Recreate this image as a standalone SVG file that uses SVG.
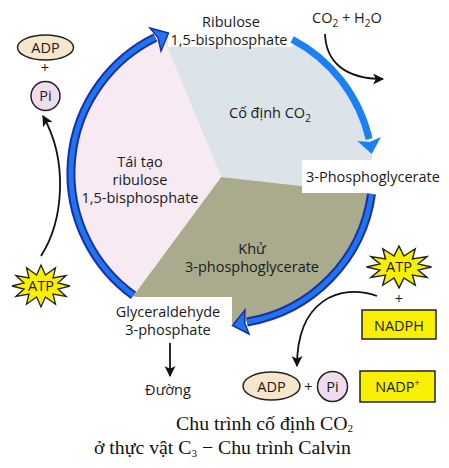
<svg xmlns="http://www.w3.org/2000/svg" xmlns:xlink="http://www.w3.org/1999/xlink" width="449" height="468" viewBox="0 0 449 468">
<style>
  .lbl { font-family: "Open Sans", "Noto Sans", "DejaVu Sans", sans-serif; font-size: 14.5px; fill: #1a1a1a; }
  .mid { text-anchor: middle; }
  .cap { font-family: "Liberation Serif", "Times New Roman", serif; font-size: 19.8px; fill: #111; text-anchor: end; }
  .box { fill: #ffffff; stroke: none; }
  .arcDark { fill: none; stroke: #1a2fa5; stroke-width: 9; }
  .arcLight { fill: none; stroke: #1f74f0; stroke-width: 5; }
  .arcBright { fill: none; stroke: #1a80f5; stroke-width: 7; }
  .headB { fill: #1f74f0; stroke: #1a2fa5; stroke-width: 1.5; stroke-linejoin: miter; }
  .headBright { fill: #1a80f5; stroke: none; }
  .conn { fill: none; stroke: #111; stroke-width: 1.8; }
  .adp { fill: #f5e6cc; stroke: #222; stroke-width: 1.5; }
  .pi { fill: #f0dcec; stroke: #222; stroke-width: 1.5; }
  .yel { fill: #f8f000; stroke: #222; stroke-width: 1.5; }
  .star { fill: #f8f000; stroke: #222; stroke-width: 1.3; stroke-linejoin: miter; }
</style>
<defs>
  <marker id="ah" viewBox="0 0 10 10" refX="9" refY="5" markerWidth="11" markerHeight="11" markerUnits="userSpaceOnUse" orient="auto">
    <path d="M0,0 L10,5 L0,10 L2.5,5 z" fill="#111"/>
  </marker>
  <polygon id="star" points="29,0 17,3 25.1,10.5 12,8 14.5,18.2 4.4,11 0,21 -4.4,11 -14.5,18.2 -12,8 -25.1,10.5 -17,3 -29,0 -17,-3 -25.1,-10.5 -12,-8 -14.5,-18.2 -4.4,-11 0,-21 4.4,-11 14.5,-18.2 12,-8 25.1,-10.5 17,-3"/>
</defs>
<rect x="0" y="0" width="449" height="468" fill="#ffffff"/>

<g id="cycle">
  <path d="M221,177 L161.8,34.5 A151,151 0 0 1 371.6,193.8 Z" fill="#dde4e9"/>
  <path d="M221,177 L371.6,193.8 A151,151 0 0 1 133.5,295.4 Z" fill="#aaaa8c"/>
  <path d="M221,177 L133.5,295.4 A151,151 0 0 1 161.8,34.5 Z" fill="#f7eaf3"/>
</g>

<g id="label-boxes">
  <rect class="box" x="168" y="6" width="125" height="41"/>
  <rect class="box" x="302" y="160" width="143" height="33"/>
  <rect class="box" x="104" y="297" width="128" height="46"/>
</g>

<g id="connectors">
  <path class="arcBright" d="M292.2,39.3 A151,151 0 0 1 369.1,139"/>
  <polygon class="headBright" points="357.3,141.1 371.7,154 380.9,136.9 369.6,142"/>
  <path class="arcDark" d="M371.5,194 A151,151 0 0 1 247,322"/>
  <path class="arcLight" d="M371.5,194 A151,151 0 0 1 247,322"/>
  <polygon class="headB" points="249,334 232.5,325.5 245,310 244.5,322.5"/>
  <path class="arcDark" d="M133.5,295.4 A151,151 0 0 1 155.3,37.5"/>
  <path class="arcLight" d="M133.5,295.4 A151,151 0 0 1 155.3,37.5"/>
  <polygon class="headB" points="150,28 168.5,33 161,51 158,37.5"/>
  <path class="conn" marker-end="url(#ah)" d="M41,256 C64,220 68,160 43,116"/>
  <path class="conn" marker-end="url(#ah)" d="M325,34 C326,62 345,79 383,79"/>
  <path class="conn" marker-end="url(#ah)" d="M170,343 L170,376"/>
  <path class="conn" marker-end="url(#ah)" d="M377,296 C340,283 297,300 297,366"/>
</g>

<g id="ribulose">
  <text class="lbl mid" x="231" y="27">Ribulose</text>
  <text class="lbl mid" x="229" y="45">1,5-bisphosphate</text>
</g>
<g id="co2-h2o">
  <text class="lbl" x="312" y="23">CO<tspan font-size="10" dy="4">2</tspan><tspan dy="-4"> + H</tspan><tspan font-size="10" dy="4">2</tspan><tspan dy="-4">O</tspan></text>
</g>
<g id="co-dinh">
  <text class="lbl" x="229" y="118">Cố định CO<tspan font-size="10" dy="4">2</tspan></text>
</g>
<g id="phosphoglycerate">
  <text class="lbl" x="306" y="182">3-Phosphoglycerate</text>
</g>
<g id="tai-tao">
  <text class="lbl mid" x="140" y="167">Tái tạo</text>
  <text class="lbl mid" x="140" y="185">ribulose</text>
  <text class="lbl mid" x="140" y="203">1,5-bisphosphate</text>
</g>
<g id="khu">
  <text class="lbl mid" x="252" y="254">Khử</text>
  <text class="lbl mid" x="252" y="272">3-phosphoglycerate</text>
</g>
<g id="glyceraldehyde">
  <text class="lbl mid" x="168" y="317">Glyceraldehyde</text>
  <text class="lbl mid" x="168" y="335">3-phosphate</text>
</g>
<g id="duong">
  <text class="lbl mid" x="168" y="395">Đường</text>
</g>

<g id="adp-top">
  <ellipse class="adp" cx="45.5" cy="47.5" rx="28" ry="12.5"/>
  <text class="lbl mid" x="45.5" y="53">ADP</text>
  <text class="lbl mid" x="45" y="73">+</text>
</g>
<g id="pi-top">
  <circle class="pi" cx="45.5" cy="96" r="14.5"/>
  <text class="lbl mid" x="45.5" y="101">Pi</text>
</g>
<g id="atp-left">
  <use xlink:href="#star" class="star" transform="translate(41,286)"/>
  <text class="lbl mid" x="41" y="291" font-size="13.5">ATP</text>
</g>
<g id="atp-right">
  <use xlink:href="#star" class="star" transform="translate(399,267) scale(1.12,1)"/>
  <text class="lbl mid" x="399" y="272" font-size="13.5">ATP</text>
  <text class="lbl mid" x="399" y="304">+</text>
</g>
<g id="nadph">
  <rect class="yel" x="362" y="310" width="74" height="29"/>
  <text class="lbl mid" x="399" y="331">NADPH</text>
</g>
<g id="adp-bottom">
  <ellipse class="adp" cx="271.5" cy="386" rx="28.5" ry="14"/>
  <text class="lbl mid" x="271.5" y="391.5">ADP</text>
  <text class="lbl mid" x="308.5" y="392" font-size="18">+</text>
</g>
<g id="pi-bottom">
  <circle class="pi" cx="332.5" cy="386.5" r="15"/>
  <text class="lbl mid" x="332.5" y="392">Pi</text>
</g>
<g id="nadp">
  <rect class="yel" x="360" y="371" width="75" height="31"/>
  <text class="lbl mid" x="397.5" y="392">NADP<tspan font-size="9" dy="-6">+</tspan></text>
</g>

<g id="caption">
  <text class="cap" x="353" y="430">Chu trình cố định CO<tspan font-size="11" dy="2">2</tspan></text>
  <text class="cap" x="351" y="454">ở thực vật C<tspan font-size="11" dy="3">3</tspan><tspan dy="-3"> − Chu trình Calvin</tspan></text>
</g>
</svg>
